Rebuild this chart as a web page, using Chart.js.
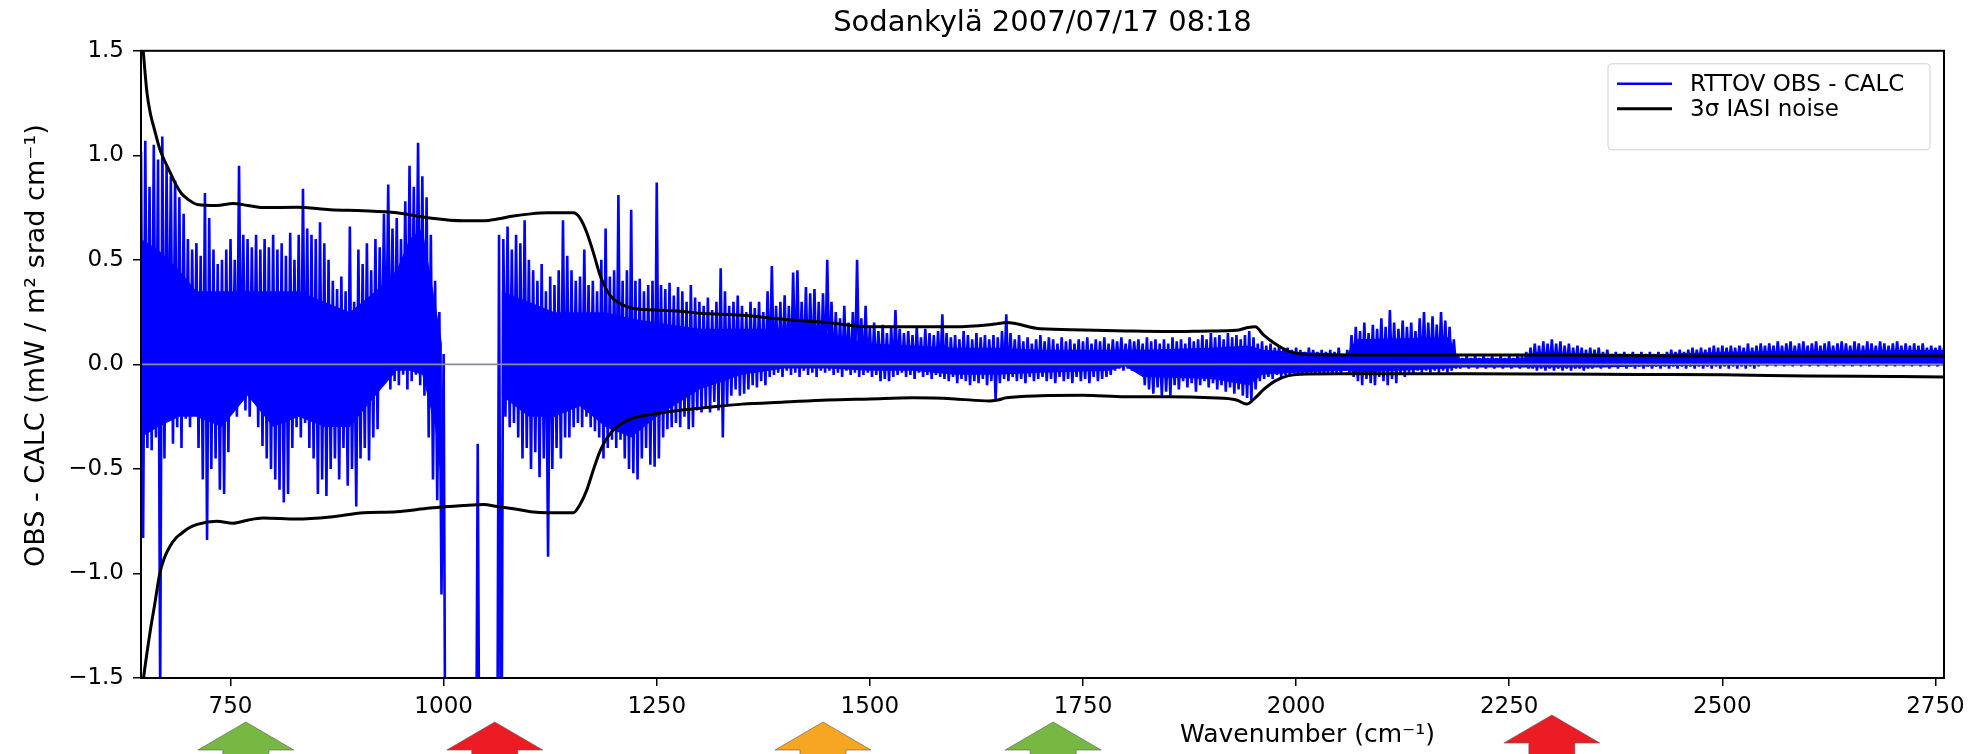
<!DOCTYPE html>
<html><head><meta charset="utf-8">
<script src="https://cdn.jsdelivr.net/npm/chart.js@4.4.0/dist/chart.umd.min.js"></script>
<style>html,body{margin:0;padding:0;background:#fff;overflow:hidden}canvas{display:block}</style>
</head><body>
<canvas id="c" width="1981" height="754"></canvas>
<script>
// ---------- texts ----------
const titleText = 'Sodankylä 2007/07/17 08:18';
const xLabelText = 'Wavenumber (cm⁻¹)';
const yLabelText = 'OBS - CALC (mW / m² srad cm⁻¹)';
const obsLabel = 'RTTOV OBS - CALC';
const noiseLabel = '3σ IASI noise';

// ---------- axes ----------
const xMin = 645, xMax = 2760;
const yMin = -1.5, yMax = 1.5;
const xTicks = [750, 1000, 1250, 1500, 1750, 2000, 2250, 2500, 2750];
const yTicks = [-1.5, -1.0, -0.5, 0.0, 0.5, 1.0, 1.5];

// ---------- OBS - CALC: max / min read per 5 cm-1 bin, starting 645 cm-1 ----------
const obsWnStart = 645;
const obsWnStep = 5;
const obsHigh = [
 1.02,1.07,0.85,1.05,0.98,1.09,0.95,0.90,0.88,0.80,0.72,0.60,0.55,0.58,0.52,0.82,0.70,0.55,0.48,0.50,
 0.55,0.60,0.50,0.95,0.62,0.60,0.56,0.62,0.55,0.60,0.56,0.62,0.55,0.58,0.52,0.63,0.50,0.62,0.84,0.65,
 0.62,0.60,0.68,0.58,0.50,0.40,0.36,0.42,0.35,0.66,0.30,0.55,0.48,0.58,0.45,0.60,0.56,0.72,0.86,0.65,
 0.70,0.60,0.78,0.95,0.85,1.06,0.90,0.80,0.62,0.40,0.25,0.05,-2.5,-2.5,-2.5,-2.5,-2.5,-2.5,-2.5,-0.38,
 -2.5,-2.5,-2.5,-2.5,0.62,0.60,0.66,0.55,0.62,0.58,0.69,0.50,0.45,0.40,0.48,0.35,0.42,0.38,0.45,0.69,
 0.52,0.45,0.40,0.42,0.55,0.38,0.40,0.35,0.50,0.65,0.42,0.45,0.81,0.40,0.45,0.74,0.40,0.41,0.35,0.38,
 0.40,0.87,0.38,0.36,0.39,0.33,0.37,0.35,0.30,0.38,0.32,0.30,0.28,0.32,0.26,0.30,0.46,0.35,0.28,0.30,
 0.33,0.28,0.25,0.30,0.27,0.30,0.25,0.35,0.47,0.28,0.30,0.33,0.28,0.44,0.45,0.30,0.37,0.34,0.36,0.30,
 0.34,0.50,0.30,0.25,0.22,0.28,0.20,0.25,0.50,0.22,0.28,0.18,0.20,0.16,0.19,0.15,0.18,0.26,0.17,0.15,
 0.16,0.14,0.18,0.13,0.17,0.15,0.14,0.16,0.24,0.15,0.13,0.14,0.12,0.16,0.14,0.12,0.15,0.13,0.14,0.12,
 0.14,0.13,0.16,0.24,0.15,0.12,0.14,0.11,0.13,0.10,0.12,0.14,0.11,0.13,0.12,0.10,0.13,0.11,0.12,0.10,
 0.12,0.11,0.13,0.10,0.12,0.11,0.13,0.10,0.12,0.11,0.13,0.10,0.12,0.11,0.12,0.10,0.13,0.11,0.12,0.10,
 0.12,0.10,0.13,0.11,0.12,0.10,0.13,0.11,0.12,0.14,0.12,0.15,0.13,0.14,0.12,0.15,0.13,0.14,0.12,0.14,
 0.16,0.13,0.10,0.11,0.09,0.10,0.08,0.09,0.07,0.08,0.07,0.08,0.07,0.06,0.08,0.07,0.06,0.07,0.06,0.07,
 0.06,0.08,0.05,0.07,0.14,0.18,0.16,0.20,0.15,0.19,0.17,0.22,0.18,0.26,0.20,0.17,0.21,0.18,0.20,0.16,
 0.22,0.25,0.20,0.23,0.19,0.25,0.21,0.18,0.12,0.04,0.03,0.04,0.03,0.04,0.03,0.04,0.03,0.04,0.03,0.04,
 0.03,0.04,0.03,0.05,0.04,0.06,0.08,0.10,0.09,0.11,0.10,0.12,0.10,0.11,0.09,0.10,0.08,0.09,0.08,0.07,
 0.08,0.07,0.08,0.06,0.07,0.05,0.06,0.05,0.06,0.05,0.06,0.05,0.06,0.05,0.06,0.05,0.06,0.05,0.06,0.07,
 0.06,0.07,0.06,0.07,0.08,0.07,0.08,0.07,0.08,0.09,0.08,0.09,0.08,0.09,0.08,0.09,0.08,0.10,0.08,0.09,
 0.10,0.09,0.10,0.09,0.11,0.09,0.10,0.11,0.09,0.10,0.11,0.09,0.10,0.11,0.09,0.10,0.11,0.09,0.10,0.11,
 0.10,0.09,0.11,0.10,0.09,0.11,0.10,0.09,0.11,0.10,0.09,0.10,0.11,0.09,0.10,0.09,0.10,0.09,0.10,0.08,0.09,0.08,0.09,0.08
];
const obsLow = [
 -0.83,-0.40,-0.41,-0.35,-1.60,-0.45,-0.15,-0.38,-0.30,-0.40,-0.26,-0.30,-0.23,-0.40,-0.55,-0.84,-0.50,-0.45,-0.60,-0.62,
 -0.42,-0.20,-0.25,-0.15,-0.22,-0.25,-0.18,-0.30,-0.39,-0.45,-0.50,-0.55,-0.60,-0.66,-0.62,-0.40,-0.30,-0.35,-0.28,-0.40,
 -0.45,-0.62,-0.55,-0.63,-0.50,-0.45,-0.55,-0.40,-0.58,-0.50,-0.68,-0.45,-0.40,-0.46,-0.35,-0.31,-0.10,-0.05,-0.12,-0.08,
 -0.10,-0.05,-0.12,-0.08,-0.05,-0.10,-0.15,-0.35,-0.55,-0.65,-1.10,-2.6,-2.6,-2.6,-2.6,-2.6,-2.6,-2.6,-2.6,-2.6,
 -2.6,-2.6,-2.6,-2.6,-2.6,-0.25,-0.30,-0.28,-0.35,-0.45,-0.40,-0.50,-0.42,-0.54,-0.45,-0.92,-0.50,-0.40,-0.45,-0.35,
 -0.35,-0.30,-0.28,-0.30,-0.25,-0.30,-0.32,-0.35,-0.45,-0.40,-0.36,-0.40,-0.36,-0.45,-0.50,-0.52,-0.55,-0.45,-0.40,-0.48,
 -0.49,-0.45,-0.35,-0.31,-0.30,-0.28,-0.30,-0.25,-0.31,-0.30,-0.22,-0.23,-0.20,-0.23,-0.18,-0.22,-0.35,-0.19,-0.15,-0.12,
 -0.15,-0.14,-0.12,-0.10,-0.11,-0.08,-0.10,-0.06,-0.05,-0.04,-0.06,-0.03,-0.05,-0.04,-0.06,-0.03,-0.05,-0.04,-0.06,-0.03,
 -0.04,-0.03,-0.05,-0.04,-0.06,-0.03,-0.05,-0.04,-0.06,-0.05,-0.04,-0.06,-0.05,-0.08,-0.07,-0.08,-0.06,-0.05,-0.04,-0.06,
 -0.05,-0.07,-0.04,-0.06,-0.05,-0.07,-0.05,-0.06,-0.07,-0.08,-0.06,-0.09,-0.07,-0.08,-0.10,-0.08,-0.09,-0.07,-0.10,-0.08,
 -0.17,-0.09,-0.07,-0.08,-0.06,-0.08,-0.07,-0.09,-0.06,-0.08,-0.07,-0.06,-0.08,-0.07,-0.09,-0.06,-0.08,-0.07,-0.09,-0.06,
 -0.08,-0.07,-0.09,-0.06,-0.08,-0.07,-0.06,-0.05,-0.03,-0.02,-0.03,-0.02,-0.03,-0.02,-0.04,-0.10,-0.12,-0.14,-0.11,-0.15,
 -0.13,-0.15,-0.10,-0.12,-0.08,-0.11,-0.09,-0.13,-0.10,-0.08,-0.11,-0.09,-0.12,-0.10,-0.13,-0.11,-0.14,-0.12,-0.15,-0.16,
 -0.17,-0.12,-0.08,-0.07,-0.06,-0.07,-0.05,-0.06,-0.05,-0.05,-0.04,-0.05,-0.04,-0.05,-0.04,-0.05,-0.04,-0.05,-0.04,-0.05,
 -0.04,-0.05,-0.03,-0.04,-0.06,-0.08,-0.10,-0.07,-0.09,-0.10,-0.06,-0.08,-0.10,-0.07,-0.09,-0.05,-0.06,-0.04,-0.05,-0.03,
 -0.04,-0.03,-0.04,-0.03,-0.04,-0.03,-0.04,-0.03,-0.02,-0.02,-0.01,-0.02,-0.01,-0.02,-0.01,-0.02,-0.01,-0.02,-0.01,-0.02,
 -0.01,-0.02,-0.01,-0.02,-0.01,-0.02,-0.02,-0.03,-0.02,-0.03,-0.02,-0.03,-0.02,-0.03,-0.02,-0.03,-0.02,-0.02,-0.03,-0.02,
 -0.02,-0.01,-0.02,-0.01,-0.02,-0.01,-0.02,-0.01,-0.02,-0.01,-0.02,-0.01,-0.02,-0.01,-0.02,-0.01,-0.02,-0.01,-0.02,-0.01,
 -0.02,-0.01,-0.02,-0.01,-0.02,-0.01,-0.02,-0.01,-0.02,-0.01,-0.02,-0.01,-0.02,-0.01,-0.02,-0.01,-0.02,-0.01,-0.02,-0.01,
 0.00,-0.01,0.00,-0.01,0.00,-0.01,0.00,-0.01,0.00,-0.01,0.00,-0.01,0.00,-0.01,0.00,-0.01,0.00,-0.01,0.00,-0.01,
 0.00,-0.01,0.00,-0.01,0.00,-0.01,0.00,-0.01,0.00,-0.01,0.00,-0.01,0.00,-0.01,0.00,-0.01,0.00,-0.01,0.00,-0.01,0.00,-0.01,0.00,-0.01
];

// ---------- OBS - CALC: range where the trace is densely packed (solid blue) ----------
const coreWn = [645,665,690,710,740,770,800,830,860,890,
 920,945,960,975,990,998,1003,1060,1068,1100,
 1130,1160,1190,1220,1250,1300,1350,1400,1450,1500,
 1550,1600,1650,1700,1780,1800,1820,1900,1945,1960,
 2000,2060,2070,2180,2190,2270,2280,2360,2400,2500,2760];
const coreHigh = [0.60,0.55,0.45,0.35,0.35,0.35,0.35,0.35,0.30,0.25,
 0.35,0.45,0.60,0.65,0.30,0.10,null,null,0.35,0.30,
 0.25,0.25,0.25,0.22,0.20,0.17,0.17,0.17,0.15,0.10,
 0.09,0.08,0.08,0.07,0.07,0.07,0.07,0.08,0.09,0.07,
 0.06,0.05,0.12,0.13,0.03,0.03,0.06,0.05,0.045,0.06,0.07];
const coreLow = [-0.35,-0.30,-0.25,-0.25,-0.30,-0.15,-0.30,-0.25,-0.30,-0.30,
 -0.15,-0.03,-0.03,-0.05,-0.30,-0.60,null,null,-0.15,-0.25,
 -0.25,-0.20,-0.30,-0.35,-0.25,-0.12,-0.05,-0.02,-0.02,-0.03,
 -0.03,-0.05,-0.05,-0.04,-0.03,-0.01,-0.06,-0.07,-0.10,-0.05,
 -0.04,-0.03,-0.04,-0.02,-0.015,-0.015,-0.015,-0.015,-0.01,-0.005,-0.005];

// ---------- 3 sigma IASI noise envelope ----------
const noiseWn = [645,648,652,656,661,667,672,679,686,692,
 700,711,734,753,770,788,828,867,906,945,
 984,1023,1047,1063,1082,1102,1122,1152,1160,1168,
 1176,1184,1192,1200,1210,1220,1250,1275,1300,1350,
 1400,1450,1500,1550,1600,1640,1650,1660,1700,1750,
 1800,1850,1900,1930,1942,1952,1962,1975,1990,2005,
 2050,2100,2200,2300,2400,2500,2600,2700,2760];
const noiseUpper = [1.62,1.48,1.30,1.20,1.12,1.03,0.98,0.92,0.86,0.82,
 0.79,0.765,0.76,0.77,0.76,0.75,0.752,0.74,0.735,0.725,
 0.70,0.687,0.687,0.695,0.71,0.72,0.725,0.725,0.70,0.63,
 0.53,0.42,0.35,0.31,0.285,0.27,0.26,0.255,0.245,0.235,
 0.215,0.20,0.18,0.18,0.18,0.19,0.195,0.20,0.17,0.165,
 0.16,0.157,0.16,0.163,0.175,0.18,0.14,0.10,0.065,0.05,
 0.045,0.045,0.045,0.045,0.042,0.04,0.04,0.04,0.04];
const noiseLower = [-1.62,-1.50,-1.38,-1.27,-1.15,-1.00,-0.93,-0.87,-0.83,-0.81,
 -0.785,-0.765,-0.75,-0.76,-0.745,-0.735,-0.74,-0.73,-0.71,-0.705,
 -0.687,-0.675,-0.67,-0.68,-0.69,-0.705,-0.71,-0.71,-0.67,-0.60,
 -0.50,-0.41,-0.35,-0.31,-0.28,-0.26,-0.235,-0.22,-0.21,-0.19,
 -0.18,-0.17,-0.165,-0.16,-0.165,-0.175,-0.17,-0.16,-0.15,-0.148,
 -0.155,-0.155,-0.16,-0.17,-0.19,-0.16,-0.12,-0.08,-0.055,-0.047,
 -0.045,-0.045,-0.045,-0.046,-0.048,-0.05,-0.055,-0.058,-0.06];

// ---------- channel-selection arrows under the axis ----------
const arrowWn = [768, 1060, 1445, 1715, 2300];
const arrowColor = ['#77b843', '#ec1c24', '#f6a623', '#77b843', '#ec1c24'];

// ---------- build library data ----------
const obsPoints = [];
for (let i = 0; i < obsHigh.length; i++) {
  const wn = obsWnStart + obsWnStep * i;
  obsPoints.push({x: wn, y: obsHigh[i]});
  obsPoints.push({x: wn + obsWnStep / 2, y: obsLow[i]});
}
const coreHighPoints = coreWn.map((w, i) => ({x: w, y: coreHigh[i]}));
const coreLowPoints = coreWn.map((w, i) => ({x: w, y: coreLow[i]}));
const upperPoints = noiseWn.map((w, i) => ({x: w, y: noiseUpper[i]}));
const lowerPoints = noiseWn.map((w, i) => ({x: w, y: noiseLower[i]}));
const zeroPoints = [{x: xMin, y: 0}, {x: xMax, y: 0}];

const FONT = '"DejaVu Sans", sans-serif';
const fmtY = v => (v < 0 ? '\u2212' : '') + Math.abs(v).toFixed(1);

const decor = {
  id: 'decor',
  afterDatasetsDraw(chart) {
    const {ctx, chartArea: ca} = chart;
    ctx.save();
    // spines
    ctx.strokeStyle = '#000'; ctx.lineWidth = 2;
    ctx.strokeRect(ca.left, ca.top, ca.right - ca.left, ca.bottom - ca.top);
    // legend
    const bw = 322, bh = 86;
    const bx = ca.right - 14 - bw, by = ca.top + 13;
    ctx.beginPath();
    if (ctx.roundRect) ctx.roundRect(bx, by, bw, bh, 4); else ctx.rect(bx, by, bw, bh);
    ctx.fillStyle = 'rgba(255,255,255,0.85)'; ctx.fill();
    ctx.strokeStyle = '#d0d0d0'; ctx.lineWidth = 1; ctx.stroke();
    const entries = [
      {label: chart.data.datasets[3].label, color: '#0000ff', w: 2.5},
      {label: chart.data.datasets[1].label, color: '#000000', w: 3}
    ];
    ctx.font = '23px ' + FONT; ctx.textBaseline = 'middle'; ctx.textAlign = 'left';
    entries.forEach((e, k) => {
      const yy = by + 20 + k * 25;
      ctx.beginPath(); ctx.moveTo(bx + 9, yy); ctx.lineTo(bx + 64, yy);
      ctx.strokeStyle = e.color; ctx.lineWidth = e.w; ctx.stroke();
      ctx.fillStyle = '#000'; ctx.fillText(e.label, bx + 82, yy + 1);
    });
    ctx.restore();
  },
  afterDraw(chart) {
    const {ctx, chartArea: ca, scales} = chart;
    ctx.save();
    // axis labels
    ctx.fillStyle = '#000';
    ctx.font = '25px ' + FONT; ctx.textAlign = 'center'; ctx.textBaseline = 'middle';
    ctx.fillText(xLabelText, ca.left + 0.647 * (ca.right - ca.left), ca.bottom + 57);
    ctx.translate(37, ca.top + 0.47 * (ca.bottom - ca.top));
    ctx.rotate(-Math.PI / 2);
    ctx.font = '27px ' + FONT;
    ctx.fillText(yLabelText, 0, 0);
    ctx.restore();
    // arrows
    ctx.save();
    arrowWn.forEach((w, i) => {
      const cx = scales.x.getPixelForValue(w);
      const tip = ca.bottom + (i === 4 ? 37 : 44);
      const hw = 48, sw = 23, hh = 28, end = chart.height + 10;
      ctx.beginPath();
      ctx.moveTo(cx, tip);
      ctx.lineTo(cx + hw, tip + hh); ctx.lineTo(cx + sw, tip + hh); ctx.lineTo(cx + sw, end);
      ctx.lineTo(cx - sw, end); ctx.lineTo(cx - sw, tip + hh); ctx.lineTo(cx - hw, tip + hh);
      ctx.closePath();
      ctx.fillStyle = arrowColor[i]; ctx.fill();
      ctx.strokeStyle = 'rgba(90,90,90,0.6)'; ctx.lineWidth = 1; ctx.stroke();
    });
    ctx.restore();
  }
};

new Chart(document.getElementById('c'), {
  type: 'line',
  data: {
    datasets: [
      {label: 'zero', data: zeroPoints, borderColor: '#8a8a9a', borderWidth: 1.8, pointRadius: 0, order: 0},
      {label: noiseLabel, data: upperPoints, borderColor: '#000', borderWidth: 3, pointRadius: 0,
       cubicInterpolationMode: 'monotone', order: 1},
      {label: noiseLabel + ' (lower)', data: lowerPoints, borderColor: '#000', borderWidth: 3, pointRadius: 0,
       cubicInterpolationMode: 'monotone', order: 1},
      {label: obsLabel, data: obsPoints, borderColor: '#0000ff', borderWidth: 2.6, borderJoinStyle: 'bevel',
       pointRadius: 0, tension: 0, order: 2},
      {label: 'core-high', data: coreHighPoints, borderColor: 'rgba(0,0,255,0)', borderWidth: 0, pointRadius: 0,
       backgroundColor: '#0000ff', fill: '+1', spanGaps: false, order: 3},
      {label: 'core-low', data: coreLowPoints, borderColor: 'rgba(0,0,255,0)', borderWidth: 0, pointRadius: 0,
       fill: false, spanGaps: false, order: 3}
    ]
  },
  options: {
    responsive: false, animation: false, devicePixelRatio: 1,
    parsing: false, normalized: true,
    layout: {padding: {left: 0, right: 37, top: 0, bottom: 0}},
    plugins: {
      legend: {display: false}, tooltip: {enabled: false},
      title: {display: true, fullSize: false, text: titleText, color: '#000',
        font: {family: FONT, size: 29, weight: 'normal'}, padding: {top: 6, bottom: 10}}
    },
    scales: {
      x: {
        type: 'linear', min: xMin, max: xMax,
        afterBuildTicks: s => { s.ticks = xTicks.map(v => ({value: v})); },
        afterFit: s => { s.height = 76; },
        ticks: {color: '#000', font: {family: FONT, size: 23}, padding: 7, maxRotation: 0, autoSkip: false,
          callback: v => String(v)},
        grid: {drawOnChartArea: false, drawTicks: true, tickLength: 8, color: '#000', lineWidth: 1.5},
        border: {display: false}
      },
      y: {
        type: 'linear', min: yMin, max: yMax,
        afterBuildTicks: s => { s.ticks = yTicks.map(v => ({value: v})); },
        afterFit: s => { s.width = 141; },
        ticks: {color: '#000', font: {family: FONT, size: 23}, padding: 9, callback: v => fmtY(v)},
        grid: {drawOnChartArea: false, drawTicks: true, tickLength: 8, color: '#000', lineWidth: 1.5},
        border: {display: false}
      }
    }
  },
  plugins: [decor]
});
</script>
</body></html>
